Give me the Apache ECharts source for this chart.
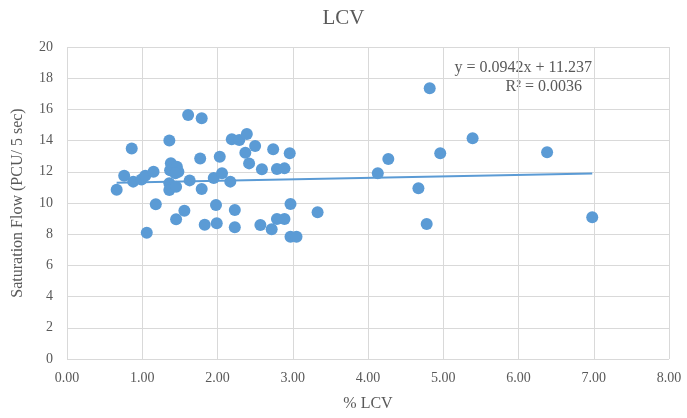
<!DOCTYPE html>
<html>
<head>
<meta charset="utf-8">
<script src="https://cdn.jsdelivr.net/npm/echarts@6/dist/echarts.min.js"></script>
<style>
  html, body { margin: 0; padding: 0; background: #fff; }
  #chart { width: 687px; height: 418px; }
</style>
</head>
<body>
<div id="chart"></div>
<script>
// % LCV values
var lcvX = [0.66, 0.76, 0.86, 0.88, 0.99, 1.04, 1.06, 1.15, 1.18, 1.36,
  1.38, 1.37, 1.46, 1.48, 1.44, 1.36, 1.36, 1.45, 1.45, 1.56,
  1.61, 1.63, 1.77, 1.79, 1.79, 1.83, 1.95, 1.98, 1.99, 2.03,
  2.06, 2.17, 2.19, 2.29, 2.39, 2.37, 2.42, 2.50, 2.23, 2.23,
  2.57, 2.59, 2.72, 2.74, 2.79, 2.79, 2.89, 2.89, 2.96, 2.97,
  2.97, 3.05, 3.33, 4.13, 4.27, 4.67, 4.78, 4.82, 4.96, 5.39,
  6.38, 6.98];
// saturation flow (PCU / 5 sec)
var satFlow = [10.85, 11.75, 13.5, 11.37, 11.5, 11.75, 8.1, 12.0, 9.92, 14.0,
  12.55, 12.1, 12.33, 12.0, 11.9, 11.26, 10.83, 11.04, 8.96, 9.5,
  15.64, 11.45, 12.85, 15.43, 10.9, 8.6, 11.6, 9.87, 8.7, 12.97,
  11.9, 11.37, 14.08, 14.04, 14.42, 13.22, 12.54, 13.65, 9.55, 8.44,
  8.59, 12.16, 8.31, 13.44, 12.18, 8.97, 12.22, 8.97, 13.19, 9.94,
  7.84, 7.84, 9.4, 11.9, 12.82, 10.94, 8.65, 17.35, 13.19, 14.15,
  13.25, 9.08];

// linear trend as printed on the chart
var trendSlope = 0.0942;
var trendIntercept = 11.237;
var trendRange = [0.66, 6.98];
var trendLabels = ['y = 0.0942x + 11.237', 'R\u00b2 = 0.0036'];

var points = lcvX.map(function (x, i) { return [x, satFlow[i]]; });
var trend = trendRange.map(function (x) { return [x, trendSlope * x + trendIntercept]; });

var serif = '"Liberation Serif", "DejaVu Serif", serif';
var grey = '#595959';

var myChart = echarts.init(document.getElementById('chart'));
var option = {
  animation: false,
  backgroundColor: '#fff',
  title: {
    text: 'LCV',
    left: 'center',
    top: 3,
    textStyle: { fontFamily: serif, fontSize: 21, fontWeight: 'normal', color: grey }
  },
  grid: { left: 67, right: 18, top: 47, bottom: 59 },
  xAxis: {
    type: 'value',
    min: 0,
    max: 8,
    interval: 1,
    name: '% LCV',
    nameLocation: 'middle',
    nameGap: 37,
    nameTextStyle: { fontFamily: serif, fontSize: 16, color: grey },
    axisLine: { show: false },
    axisTick: { show: false },
    axisLabel: {
      fontFamily: serif, fontSize: 14, color: grey, margin: 12,
      formatter: function (v) { return v.toFixed(2); }
    },
    splitLine: { show: true, lineStyle: { color: '#d9d9d9', width: 1 } }
  },
  yAxis: {
    type: 'value',
    min: 0,
    max: 20,
    interval: 2,
    name: 'Saturation Flow (PCU/ 5 sec)',
    nameLocation: 'middle',
    nameGap: 41,
    nameTextStyle: { fontFamily: serif, fontSize: 16, color: grey },
    axisLine: { show: false },
    axisTick: { show: false },
    axisLabel: { fontFamily: serif, fontSize: 14, color: grey, margin: 14 },
    splitLine: { show: true, lineStyle: { color: '#d9d9d9', width: 1 } }
  },
  series: [
    {
      type: 'scatter',
      data: points,
      symbolSize: 12,
      itemStyle: { color: '#5b9bd5', opacity: 1 },
      z: 3
    },
    {
      type: 'line',
      data: trend,
      symbol: 'none',
      lineStyle: { color: '#5b9bd5', width: 2 },
      z: 2
    }
  ],
  graphic: [
    {
      type: 'text',
      right: 95,
      top: 60,
      style: { text: trendLabels[0], font: '16px ' + serif, fill: grey }
    },
    {
      type: 'text',
      right: 105,
      top: 79,
      style: { text: trendLabels[1], font: '16px ' + serif, fill: grey }
    }
  ]
};
option && myChart.setOption(option);
</script>
</body>
</html>
